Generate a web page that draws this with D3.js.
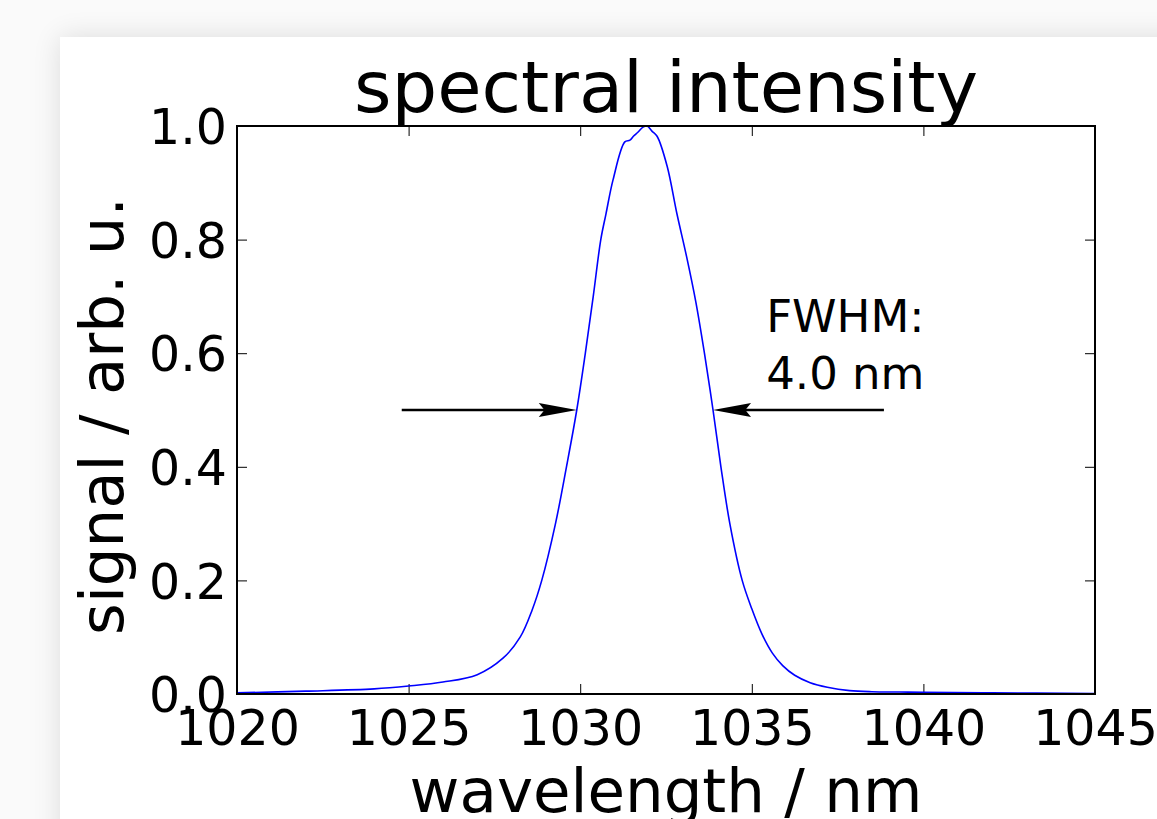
<!DOCTYPE html>
<html>
<head>
<meta charset="utf-8">
<script src="https://cdn.jsdelivr.net/npm/d3@7"></script>
<style>
  html, body { margin: 0; padding: 0; background: #fafafa; overflow: hidden; }
  #card {
    position: absolute; left: 60px; top: 37px; width: 1200px; height: 900px;
    background: #fff; box-shadow: 0 0 26px rgba(0, 0, 0, 0.12);
  }
  #mount { position: absolute; left: 0; top: 0; }
  text { font-family: "DejaVu Sans", sans-serif; fill: #000; }
</style>
</head>
<body>
<div id="card"></div>
<div id="mount"></div>
<script>
'use strict';

// spectrum
const wavelength = [1020, 1022, 1024, 1025, 1026, 1027, 1027.75, 1028.25, 1028.6, 1028.88,
  1029.28, 1029.6, 1029.9, 1030.15, 1030.38, 1030.6, 1030.75, 1030.96, 1031.3, 1031.45,
  1031.55, 1031.68, 1031.83, 1031.95, 1032.09, 1032.24, 1032.53, 1032.82, 1033.1, 1033.37,
  1033.62, 1033.87, 1034.1, 1034.36, 1034.72, 1035.0, 1035.3, 1035.6, 1035.9, 1036.25,
  1036.7, 1037.2, 1037.85, 1038.5, 1039.3, 1040, 1042, 1045];
const signal = [0.002, 0.005, 0.009, 0.014, 0.021, 0.034, 0.063, 0.10, 0.148, 0.20,
  0.30, 0.40, 0.50, 0.60, 0.70, 0.80, 0.845, 0.906, 0.972, 0.975,
  0.982, 0.989, 0.998, 1.0, 0.991, 0.982, 0.93, 0.845, 0.77, 0.69,
  0.60, 0.50, 0.40, 0.30, 0.20, 0.15, 0.105, 0.072, 0.050, 0.033,
  0.020, 0.012, 0.006, 0.004, 0.0035, 0.003, 0.002, 0.001];

const xTicks = [1020, 1025, 1030, 1035, 1040, 1045];
const yTicks = [0.0, 0.2, 0.4, 0.6, 0.8, 1.0];

// FWHM annotation: arrow tails and tips at half maximum
const halfMax = 0.5;
const fwhmEdges = [1029.9, 1033.87];
const arrowTails = [1024.8, 1038.85];
const fwhmText = ['FWHM:', '4.0 nm'];

const margin = { top: 126, left: 237, bottom: 125, right: 62 },
      width = 1157 - margin.left - margin.right,
      height = 819 - margin.top - margin.bottom;

const svg = d3.select('#mount').append('svg')
    .attr('width', 1157)
    .attr('height', 819);

const graph = svg.append('g')
    .attr('transform', `translate(${margin.left}, ${margin.top})`);

const x = d3.scaleLinear().domain([1020, 1045]).range([0, width]);
const y = d3.scaleLinear().domain([0, 1]).range([height, 0]);

// ticks pointing inwards on all four sides
const tickLen = 10;
const axes = [
  { axis: d3.axisBottom(x).tickValues(xTicks).tickFormat(d3.format('d')), at: `translate(0,${height})` },
  { axis: d3.axisTop(x).tickValues(xTicks).tickFormat(''), at: 'translate(0,0)' },
  { axis: d3.axisLeft(y).tickValues(yTicks).tickFormat(d3.format('.1f')), at: 'translate(0,0)' },
  { axis: d3.axisRight(y).tickValues(yTicks).tickFormat(''), at: `translate(${width},0)` }
];
axes.forEach((a, i) => {
  const g = graph.append('g')
      .attr('transform', a.at)
      .call(a.axis.tickSizeInner(-tickLen).tickSizeOuter(0).tickPadding(0));
  g.select('.domain').remove();
  g.selectAll('.tick line').attr('stroke', '#000').attr('stroke-width', 1);
  g.selectAll('.tick text')
      .style('font-family', '"DejaVu Sans", sans-serif')
      .style('font-size', '49px')
      .attr('fill', '#000');
  if (i === 0) {
    g.selectAll('.tick text').attr('y', 14).attr('dy', '0.76em');
  } else if (i === 2) {
    g.selectAll('.tick text').attr('x', -10).attr('dy', '0.36em');
  }
});

// spectrum line
const line = d3.line()
    .x((d, i) => x(wavelength[i]))
    .y(d => y(d))
    .curve(d3.curveCatmullRom.alpha(0.5));

graph.append('path')
    .datum(signal)
    .attr('d', line)
    .attr('fill', 'none')
    .attr('stroke', '#0000ff')
    .attr('stroke-width', 1.6);

// frame
graph.append('rect')
    .attr('width', width)
    .attr('height', height)
    .attr('fill', 'none')
    .attr('stroke', '#000')
    .attr('stroke-width', 2);

// FWHM arrows
fwhmEdges.forEach((edge, i) => {
  const tipX = x(edge), tailX = x(arrowTails[i]), yy = y(halfMax);
  const dir = Math.sign(tipX - tailX);
  const headLen = 38, headHalf = 7;
  graph.append('line')
      .attr('x1', tailX).attr('y1', yy)
      .attr('x2', tipX - dir * headLen * 0.6).attr('y2', yy)
      .attr('stroke', '#000')
      .attr('stroke-width', 2.4);
  graph.append('path')
      .attr('d', d3.line()([
        [tipX, yy],
        [tipX - dir * headLen, yy - headHalf],
        [tipX - dir * headLen * 0.85, yy],
        [tipX - dir * headLen, yy + headHalf]
      ]) + 'Z')
      .attr('fill', '#000');
});

// FWHM label
graph.append('text')
    .attr('transform', `translate(${x(1035.42)},${y(0.637)})`)
    .style('font-size', '45px')
    .selectAll('tspan')
    .data(fwhmText)
  .join('tspan')
    .attr('x', 0)
    .attr('dy', (d, i) => i === 0 ? 0 : 57)
    .text(d => d);

// title and axis labels
svg.append('text')
    .attr('x', margin.left + width / 2)
    .attr('y', 112)
    .attr('text-anchor', 'middle')
    .style('font-size', '72px')
    .text('spectral intensity');

svg.append('text')
    .attr('x', margin.left + width / 2)
    .attr('y', 812)
    .attr('text-anchor', 'middle')
    .style('font-size', '61px')
    .text('wavelength / nm');

svg.append('text')
    .attr('transform', `translate(123,${margin.top + height / 2 + 6}) rotate(-90)`)
    .attr('text-anchor', 'middle')
    .style('font-size', '61px')
    .text('signal / arb. u.');
</script>
</body>
</html>
